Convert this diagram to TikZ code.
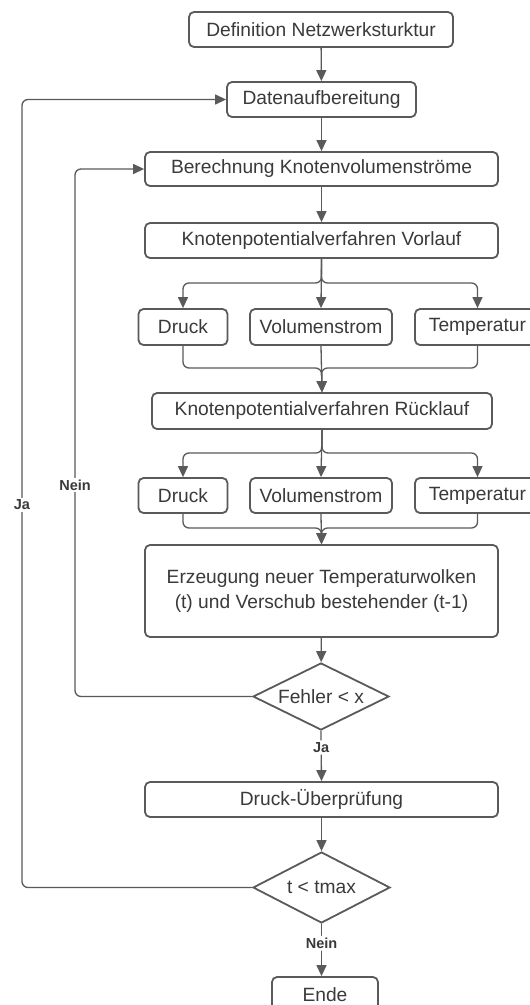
\documentclass[tikz,border=0pt]{standalone}
\usepackage{fontspec}
\setmainfont{Liberation Sans}
\usetikzlibrary{arrows.meta,shapes.geometric}
\definecolor{linegray}{HTML}{5A5A5A}
\definecolor{textgray}{HTML}{3A3A3A}
\begin{document}
\begin{tikzpicture}[x=1pt,y=-1pt,
  box/.style={draw=linegray, line width=1.8pt, rounded corners=5pt, fill=white, inner sep=0pt, text=textgray, font=\fontsize{19.2}{25}\selectfont, align=center},
  dia/.style={draw=linegray, line width=1.8pt, diamond, aspect=2, inner sep=0pt, fill=white, text=textgray, font=\fontsize{19.2}{22}\selectfont},
  conn/.style={draw=linegray, line width=1.3pt, rounded corners=6pt},
  arr/.style={conn, -{Triangle[length=11pt,width=10pt]}},
  lbl/.style={fill=white, text=textgray, font=\bfseries\fontsize{14.5}{16}\selectfont, inner sep=2pt}
]
\useasboundingbox (0,0) rectangle (530,1005);
\fill[white] (0,0) rectangle (530,1005);

% nodes
\node[box, minimum width=264pt, minimum height=35pt] (def) at (321,29.5) {Definition Netzwerksturktur};
\node[box, minimum width=189pt, minimum height=35pt] (dat) at (321.5,99.5) {Datenaufbereitung};
\node[box, minimum width=353pt, minimum height=34pt] (ber) at (321.5,169) {Berechnung Knotenvolumenströme};
\node[box, minimum width=353pt, minimum height=35pt] (vor) at (321.5,240.5) {Knotenpotentialverfahren Vorlauf};
\node[box, minimum width=89pt, minimum height=36pt] (dA) at (183,327) {Druck};
\node[box, minimum width=142pt, minimum height=36pt] (vA) at (321,327) {Volumenstrom};
\node[box, minimum width=125pt, minimum height=36pt] (tA) at (477.5,327) {Temperatur};
\node[box, minimum width=340pt, minimum height=36pt] (rue) at (322,411) {Knotenpotentialverfahren Rücklauf};
\node[box, minimum width=89pt, minimum height=35pt] (dB) at (183,495.5) {Druck};
\node[box, minimum width=142pt, minimum height=35pt] (vB) at (321,495.5) {Volumenstrom};
\node[box, minimum width=125pt, minimum height=35pt] (tB) at (477.5,495.5) {Temperatur};
\node[box, minimum width=353pt, minimum height=92pt] (erz) at (321.5,591) {Erzeugung neuer Temperaturwolken\\(t) und Verschub bestehender (t-1)};
\node[dia, minimum width=136pt, minimum height=67pt] (feh) at (321,696.5) {Fehler < x};
\node[box, minimum width=353pt, minimum height=35pt] (dru) at (321.5,799.5) {Druck-Überprüfung};
\node[dia, minimum width=137pt, minimum height=71pt] (tma) at (321.5,887.5) {t < tmax};
\node[box, minimum width=106pt, minimum height=35pt] (ende) at (325,994.5) {Ende};

% straight connectors
\draw[arr] (def) -- (dat);
\draw[arr] (dat) -- (ber);
\draw[arr] (ber) -- (vor);

% branch 1
\coordinate (s1) at (321.5,283);
\draw[arr] (vor.south) -- (s1) -| (dA.north);
\draw[arr] (vor.south) -- (vA.north);
\draw[arr] (vor.south) -- (s1) -| (tA.north);
\coordinate (m1) at (321.5,368);
\draw[arr] (dA.south) |- (m1) -- (rue.north);
\draw[arr] (vA.south) -- (rue.north);
\draw[arr] (tA.south) |- (m1) -- (rue.north);

% branch 2
\coordinate (s2) at (322,453);
\draw[arr] (rue.south) -- (s2) -| (dB.north);
\draw[arr] (rue.south) -- (vB.north);
\draw[arr] (rue.south) -- (s2) -| (tB.north);
\coordinate (m2) at (321.5,528);
\draw[arr] (dB.south) |- (m2) -- (erz.north);
\draw[arr] (vB.south) -- (erz.north);
\draw[arr] (tB.south) |- (m2) -- (erz.north);

\draw[arr] (erz) -- (feh);
\draw[arr] (feh.south) -- node[lbl, pos=0.33] (ja1) {Ja} (dru.north);
\draw[arr] (dru) -- (tma);
\draw[arr] (tma.south) -- node[lbl, pos=0.37] (nein2) {Nein} (tma.south |- ende.north);

% loops
\coordinate (c1) at (75,169);
\draw[arr] (feh.west) -| (c1) -- (ber.west);
\node[lbl] (nein1) at (75,485) {Nein};
\coordinate (c2) at (22,99.5);
\draw[arr] (tma.west) -| (c2) -- (dat.west);
\node[lbl] (ja2) at (22,505) {Ja};
\end{tikzpicture}
\end{document}
